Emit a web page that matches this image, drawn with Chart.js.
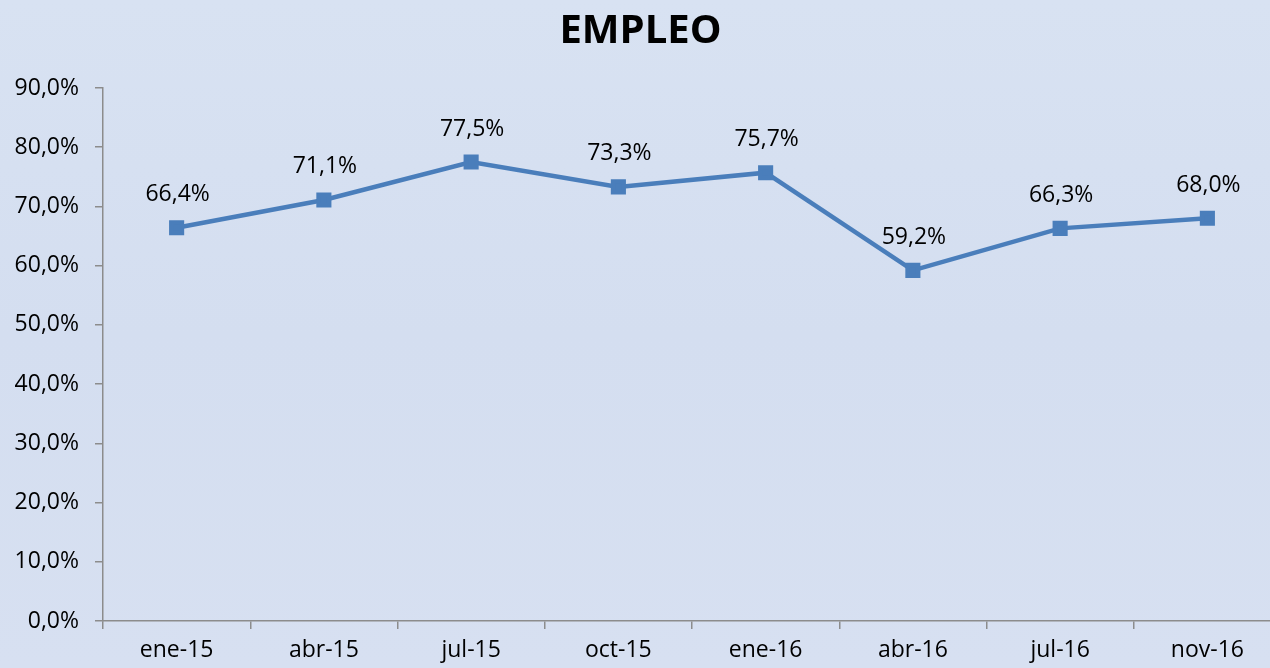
<!DOCTYPE html>
<html>
<head>
<meta charset="utf-8">
<script src="https://cdn.jsdelivr.net/npm/chart.js@4"></script>
<style>
    html, body {
        margin: 0;
        padding: 0;
        width: 1270px;
        height: 668px;
        overflow: hidden;
        background: linear-gradient(180deg, #d8e2f2 0%, #d4def0 50%, #d7e0f1 100%);
    }
    #wrap {
        position: absolute;
        left: 0;
        top: 0;
        width: 1306px;
        height: 668px;
    }
</style>
</head>
<body>
<div id="wrap"><canvas id="chart"></canvas></div>
<script>
// ---------- datos ----------
const categorias = ["ene-15", "abr-15", "jul-15", "oct-15", "ene-16", "abr-16", "jul-16", "nov-16"];
const empleo = [66.4, 71.1, 77.5, 73.3, 75.7, 59.2, 66.3, 68.0];
const ticksY = [0, 10, 20, 30, 40, 50, 60, 70, 80, 90];

const fuente = '"Open Sans", "Noto Sans", sans-serif';
const gris = "#8c8c8c";
const azul = "#4a7ebb";

function pct(v) {
    return v.toFixed(1).replace(".", ",") + "%";
}

// etiquetas de valor sobre cada punto
const etiquetas = {
    id: "etiquetas",
    afterDatasetsDraw(chart) {
        const ctx = chart.ctx;
        const meta = chart.getDatasetMeta(0);
        ctx.save();
        ctx.font = "23px " + fuente;
        ctx.fillStyle = "#000";
        ctx.textAlign = "center";
        ctx.textBaseline = "middle";
        meta.data.forEach((p, i) => {
            ctx.fillText(pct(empleo[i]), p.x + 1, p.y - 33);
        });
        ctx.restore();
    },
};

new Chart(document.getElementById("chart"), {
    type: "line",
    data: {
        labels: categorias,
        datasets: [{
            data: empleo,
            borderColor: azul,
            backgroundColor: azul,
            borderWidth: 4.5,
            pointStyle: "rect",
            pointRadius: 7.5,
            pointHoverRadius: 7.5,
            tension: 0,
        }],
    },
    options: {
        responsive: true,
        maintainAspectRatio: false,
        animation: false,
        layout: { padding: { left: 0, right: 25, top: 0, bottom: 0 } },
        plugins: {
            legend: { display: false },
            tooltip: { enabled: false },
            title: {
                display: true,
                text: "EMPLEO",
                color: "#000",
                font: { family: fuente, size: 40, weight: "bold" },
                padding: { top: 8, bottom: 32 },
            },
        },
        scales: {
            x: {
                offset: true,
                grid: {
                    offset: true,
                    drawOnChartArea: false,
                    drawTicks: true,
                    tickLength: 8,
                    color: gris,
                    lineWidth: 1.5,
                },
                border: { color: gris, width: 1.5 },
                ticks: {
                    color: "#000",
                    padding: 8,
                    maxRotation: 0,
                    font: { family: fuente, size: 23 },
                },
                afterFit(scale) { scale.height = 47; },
            },
            y: {
                min: 0,
                max: 90,
                afterBuildTicks(scale) {
                    scale.ticks = ticksY.map((v) => ({ value: v }));
                },
                grid: {
                    drawOnChartArea: false,
                    drawTicks: true,
                    tickLength: 8,
                    color: gris,
                    lineWidth: 1.5,
                },
                border: { color: gris, width: 1.5 },
                ticks: {
                    color: "#000",
                    padding: 16,
                    font: { family: fuente, size: 23 },
                    callback: (v) => pct(v),
                },
                afterFit(scale) { scale.width = 103; },
            },
        },
    },
    plugins: [etiquetas],
});
</script>
</body>
</html>
